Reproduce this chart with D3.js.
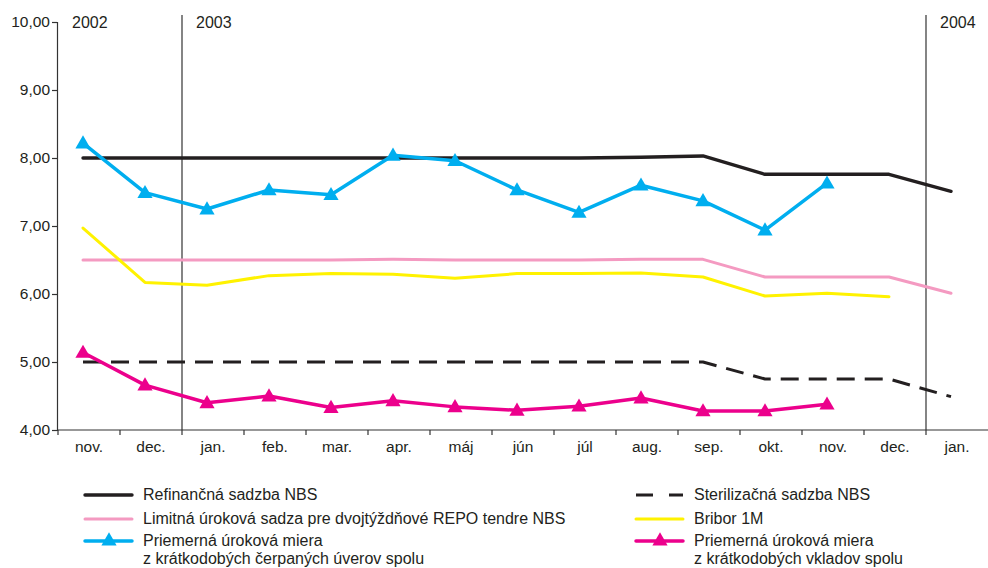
<!DOCTYPE html>
<html>
<head>
<meta charset="utf-8">
<script src="https://cdn.jsdelivr.net/npm/d3@7"></script>
<style>
  body { margin: 0; background: #fff; }
  svg text { font-family: "Liberation Sans", Arial, sans-serif; fill: #231f20; }
</style>
</head>
<body>
<svg id="chart" width="988" height="568"></svg>
<script>
// months on the x axis (nov 2002 .. jan 2004)
var months = ["nov.", "dec.", "jan.", "feb.", "mar.", "apr.", "máj", "jún", "júl", "aug.", "sep.", "okt.", "nov.", "dec.", "jan."]
var yTicks = [4, 5, 6, 7, 8, 9, 10]
var years = [{ label: "2002", at: 0 }, { label: "2003", at: 2 }, { label: "2004", at: 14 }]

// series values
var refinancna = [8.00, 8.00, 8.00, 8.00, 8.00, 8.00, 8.00, 8.00, 8.00, 8.01, 8.03, 7.76, 7.76, 7.76, 7.51]
var sterilizacna = [5.00, 5.00, 5.00, 5.00, 5.00, 5.00, 5.00, 5.00, 5.00, 5.00, 5.00, 4.75, 4.75, 4.75, 4.49]
var limitna = [6.50, 6.50, 6.50, 6.50, 6.50, 6.51, 6.50, 6.50, 6.50, 6.51, 6.51, 6.25, 6.25, 6.25, 6.01]
var bribor = [6.97, 6.17, 6.13, 6.27, 6.30, 6.29, 6.23, 6.30, 6.30, 6.31, 6.25, 5.97, 6.01, 5.96]
var uvery = [8.22, 7.49, 7.25, 7.53, 7.46, 8.04, 7.96, 7.53, 7.20, 7.60, 7.37, 6.94, 7.63]
var vklady = [5.14, 4.66, 4.40, 4.50, 4.33, 4.43, 4.34, 4.29, 4.35, 4.47, 4.28, 4.28, 4.38]

var series = [
    { name: "Refinančná sadzba NBS", values: refinancna, color: "#231f20", width: 3.4 },
    { name: "Sterilizačná sadzba NBS", values: sterilizacna, color: "#231f20", width: 3, dash: "18,10" },
    { name: "Limitná úroková sadza pre dvojtýždňové REPO tendre NBS", values: limitna, color: "#f49ac1", width: 3 },
    { name: "Bribor 1M", values: bribor, color: "#fff200", width: 3 },
    { name: "Priemerná úroková miera|z krátkodobých čerpaných úverov spolu", values: uvery, color: "#00aeef", width: 3.5, marker: true },
    { name: "Priemerná úroková miera|z krátkodobých vkladov spolu", values: vklady, color: "#ec008c", width: 3.5, marker: true }
]

var svg = d3.select("#chart")
var axisColor = "#333"

var x = d3.scaleBand()
    .domain(d3.range(months.length))
    .range([58, 988])
var y = d3.scaleLinear()
    .domain([4, 10])
    .range([430, 22])

// points sit a little left of the month centre, as in the original
function px(i) { return x(i) + x.bandwidth() / 2 - 6 }

// year separators
svg.selectAll(".yearline")
    .data(years.filter(function(d) { return d.at > 0 }))
    .enter().append("line")
    .attr("x1", function(d) { return x(d.at) })
    .attr("x2", function(d) { return x(d.at) })
    .attr("y1", 15)
    .attr("y2", 430)
    .style("stroke", axisColor)
    .style("stroke-width", 1.2)

svg.selectAll(".yearlabel")
    .data(years)
    .enter().append("text")
    .attr("x", function(d) { return x(d.at) + 14 })
    .attr("y", 28)
    .style("font-size", "16px")
    .text(function(d) { return d.label })

// y axis
var yAxis = d3.axisLeft(y)
    .tickValues(yTicks)
    .tickSize(5)
    .tickFormat(function(d) { return d3.format(".2f")(d).replace(".", ",") })

var gy = svg.append("g")
    .attr("transform", "translate(57,0)")
    .call(yAxis)
gy.select(".domain").style("stroke", axisColor).style("stroke-width", 1.2)
gy.selectAll(".tick line").style("stroke", axisColor).style("stroke-width", 1.2)
gy.selectAll(".tick text")
    .attr("x", -7)
    .style("font-size", "15.5px")
    .style("font-family", "Liberation Sans, Arial, sans-serif")
    .style("fill", "#231f20")

// x axis
svg.append("line")
    .attr("x1", 57).attr("x2", 988)
    .attr("y1", 430).attr("y2", 430)
    .style("stroke", axisColor)
    .style("stroke-width", 1.2)

svg.selectAll(".xtick")
    .data(d3.range(months.length))
    .enter().append("line")
    .attr("x1", function(d) { return x(d) })
    .attr("x2", function(d) { return x(d) })
    .attr("y1", 430)
    .attr("y2", 435)
    .style("stroke", axisColor)
    .style("stroke-width", 1.2)

svg.selectAll(".xlabel")
    .data(months)
    .enter().append("text")
    .attr("x", function(d, i) { return x(i) + x.bandwidth() / 2 })
    .attr("y", 452)
    .attr("text-anchor", "middle")
    .style("font-size", "15.5px")
    .text(function(d) { return d })

// lines
var line = d3.line()
    .x(function(d, i) { return px(i) })
    .y(function(d) { return y(d) })

var tri = d3.symbol().type(d3.symbolTriangle).size(100)

series.forEach(function(s) {
    svg.append("path")
        .datum(s.values)
        .attr("d", line)
        .style("fill", "none")
        .style("stroke", s.color)
        .style("stroke-width", s.width)
        .style("stroke-linejoin", "round")
        .style("stroke-linecap", s.dash ? "butt" : "round")
        .style("stroke-dasharray", s.dash || null)

    if (s.marker) {
        svg.selectAll(null)
            .data(s.values)
            .enter().append("path")
            .attr("d", tri)
            .attr("transform", function(d, i) { return "translate(" + px(i) + "," + (y(d) + 1) + ")" })
            .style("fill", s.color)
    }
})

// legend
var legendPos = [
    { s: 0, x: 85, y: 495 },
    { s: 2, x: 85, y: 519 },
    { s: 4, x: 85, y: 541 },
    { s: 1, x: 636, y: 495 },
    { s: 3, x: 636, y: 519 },
    { s: 5, x: 636, y: 541 }
]

legendPos.forEach(function(p) {
    var s = series[p.s]
    var g = svg.append("g").attr("transform", "translate(" + p.x + "," + p.y + ")")
    g.append("line")
        .attr("x1", 0).attr("x2", 47)
        .attr("y1", 0).attr("y2", 0)
        .style("stroke", s.color)
        .style("stroke-width", s.width)
        .style("stroke-linecap", s.dash ? "butt" : "round")
        .style("stroke-dasharray", s.dash ? "17,16" : null)
    if (s.marker) {
        g.append("path")
            .attr("d", tri)
            .attr("transform", "translate(24,0)")
            .style("fill", s.color)
    }
    var lines = s.name.split("|")
    lines.forEach(function(t, k) {
        g.append("text")
            .attr("x", 58)
            .attr("y", 5 + k * 18)
            .style("font-size", "16px")
            .text(t)
    })
})
</script>
</body>
</html>
